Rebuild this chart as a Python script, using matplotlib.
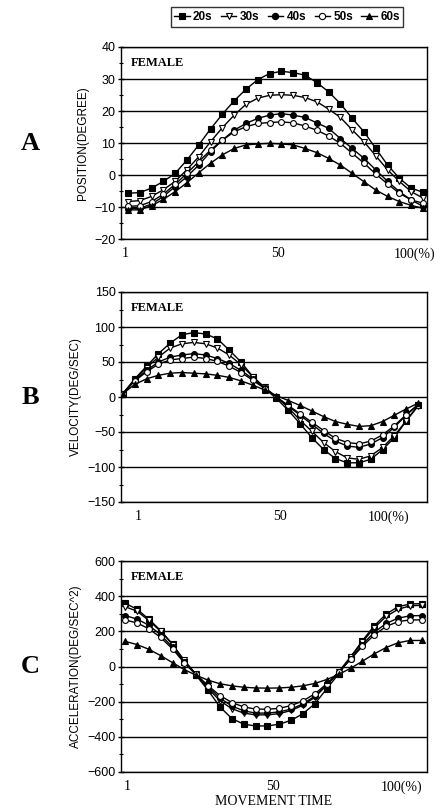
import matplotlib
matplotlib.use("Agg")
import matplotlib.pyplot as plt
from matplotlib.lines import Line2D
from matplotlib.ticker import MultipleLocator

# ---------------- data ----------------
groups = ["20s", "30s", "40s", "50s", "60s"]
x_tick_labels = ["1", "50", "100(%)"]

pos_20s = [-5.7, -5.5, -4.1, -2.0, 0.5, 4.7, 9.4, 14.4, 19.0, 23.2, 26.8, 29.8, 31.7, 32.4, 32.0, 31.2, 28.9, 26.0, 22.3, 17.7, 13.5, 8.3, 3.1, -1.0, -4.1, -5.4]
pos_30s = [-8.3, -8.0, -6.7, -4.6, -2.0, 1.7, 5.7, 10.4, 14.8, 18.7, 22.1, 24.0, 24.9, 25.1, 24.9, 24.2, 22.9, 20.6, 18.0, 14.1, 10.4, 6.0, 1.6, -2.0, -5.2, -7.2]
pos_40s = [-10.6, -10.4, -9.1, -6.7, -3.6, -0.5, 3.1, 7.3, 10.9, 14.0, 16.1, 17.7, 18.7, 19.2, 18.7, 18.0, 16.3, 14.6, 11.4, 8.3, 5.2, 1.6, -2.0, -5.2, -7.8, -9.8]
pos_50s = [-9.8, -9.6, -8.3, -6.0, -2.9, 0.5, 4.2, 7.8, 10.9, 13.5, 15.1, 16.1, 16.4, 16.6, 16.3, 15.3, 14.0, 12.2, 9.9, 6.8, 3.7, 0.3, -2.8, -5.7, -7.8, -8.8]
pos_60s = [-10.9, -10.9, -9.6, -7.6, -5.2, -2.4, 0.7, 3.7, 6.3, 8.3, 9.4, 9.7, 9.9, 9.7, 9.4, 8.3, 7.0, 5.2, 3.1, 0.5, -2.1, -4.7, -6.7, -8.3, -9.5, -10.4]

vel_20s = [5, 26, 44, 62, 77, 89, 92, 90, 83, 67, 50, 29, 12, -2, -19, -38, -58, -75, -88, -94, -94, -89, -75, -58, -34, -12]
vel_30s = [5, 25, 42, 57, 70, 76, 78, 76, 70, 60, 46, 29, 14, 0, -15, -33, -49, -65, -78, -87, -89, -84, -72, -55, -34, -13]
vel_40s = [5, 24, 38, 50, 57, 60, 62, 60, 55, 48, 38, 26, 13, 0, -13, -26, -39, -52, -63, -70, -72, -67, -58, -43, -26, -11]
vel_50s = [5, 23, 36, 47, 53, 55, 57, 55, 51, 44, 35, 24, 12, 0, -12, -24, -36, -48, -59, -65, -67, -63, -54, -41, -25, -11]
vel_60s = [5, 18, 26, 31, 34, 35, 34, 33, 31, 28, 23, 17, 10, 2, -5, -12, -20, -28, -35, -39, -42, -41, -35, -26, -17, -9]

acc_20s = [360, 326, 270, 204, 128, 25, -51, -136, -230, -296, -328, -338, -338, -328, -306, -268, -211, -126, -42, 53, 147, 232, 298, 340, 355, 358]
acc_30s = [340, 315, 262, 200, 125, 35, -45, -125, -195, -240, -265, -275, -275, -268, -250, -220, -175, -105, -30, 55, 140, 220, 285, 325, 345, 348]
acc_40s = [290, 270, 235, 180, 110, 25, -45, -115, -180, -225, -252, -265, -265, -258, -242, -212, -168, -105, -35, 45, 125, 195, 245, 275, 288, 290]
acc_50s = [265, 248, 215, 165, 100, 20, -45, -110, -165, -205, -230, -242, -243, -238, -222, -195, -155, -98, -32, 40, 115, 180, 228, 255, 265, 265]
acc_60s = [143, 125, 98, 62, 22, -18, -50, -78, -98, -110, -118, -122, -123, -122, -118, -110, -96, -74, -45, -10, 30, 72, 108, 135, 148, 148]

# ---------------- style ----------------
styles = [
    dict(marker="s", mfc="black"),
    dict(marker="v", mfc="white"),
    dict(marker="o", mfc="black"),
    dict(marker="o", mfc="white"),
    dict(marker="^", mfc="black"),
]
sans = ["Liberation Sans", "DejaVu Sans"]
serif = ["Liberation Serif", "DejaVu Serif"]

W, H = 434, 809
fig = plt.figure(figsize=(W / 100, H / 100), dpi=100)

def px_axes(left, right, top, bottom):
    return fig.add_axes([left / W, 1 - bottom / H, (right - left) / W, (bottom - top) / H])

panels = [
    dict(series=[pos_20s, pos_30s, pos_40s, pos_50s, pos_60s], top=47, bottom=239,
         ylim=(-20, 40), major=10, ylabel="POSITION(DEGREE)", letter="A",
         xlim=(-0.59, 25.34), xticks=[-0.25, 12.7, 24.3]),
    dict(series=[vel_20s, vel_30s, vel_40s, vel_50s, vel_60s], top=292, bottom=502,
         ylim=(-150, 150), major=50, ylabel="VELOCITY(DEG/SEC)", letter="B",
         xlim=(-0.17, 25.76), xticks=[1.27, 13.3, 22.5]),
    dict(series=[acc_20s, acc_30s, acc_40s, acc_50s, acc_60s], top=561, bottom=772,
         ylim=(-600, 600), major=200, ylabel="ACCELERATION(DEG/SEC^2)", letter="C",
         xlim=(-0.34, 25.44), xticks=[0.17, 12.5, 23.3]),
]

for p in panels:
    ax = px_axes(121, 427, p["top"], p["bottom"])
    for vals, st in zip(p["series"], styles):
        ax.plot(range(len(vals)), vals, color="black", lw=1.0, marker=st["marker"],
                mfc=st["mfc"], mec="black", ms=4.2, mew=0.8, zorder=3)
    ax.set_ylim(*p["ylim"])
    ax.set_xlim(*p["xlim"])
    ax.yaxis.set_major_locator(MultipleLocator(p["major"]))
    ax.yaxis.set_minor_locator(MultipleLocator(p["major"] / 2))
    ax.grid(axis="y", which="major", color="black", lw=1.0)
    ax.set_axisbelow(True)
    for s in ax.spines.values():
        s.set_color("black")
        s.set_linewidth(1.0)
    ax.tick_params(axis="y", which="major", direction="inout", length=4, width=1,
                   labelsize=9, pad=2)
    ax.tick_params(axis="y", which="minor", direction="inout", length=2.5, width=0.8)
    for lab in ax.get_yticklabels():
        lab.set_family(sans)
    ax.set_xticks(p["xticks"])
    ax.set_xticklabels(x_tick_labels, family=serif, fontsize=10)
    ax.tick_params(axis="x", length=0, pad=6)
    ax.set_ylabel(p["ylabel"], family=sans, fontsize=8.5, labelpad=4)
    ax.text(10 / 306, 1 - 16 / (p["bottom"] - p["top"]), "FEMALE", transform=ax.transAxes,
            family=serif, fontsize=9, fontweight="bold", va="center", ha="left")
    fig.text(30 / W, 1 - ((p["top"] + p["bottom"]) / 2) / H, p["letter"], family=serif,
             fontsize=19, fontweight="bold", ha="center", va="center")
    last_ax = ax

last_ax.set_xlabel("MOVEMENT TIME", family=serif, fontsize=10, labelpad=1)

handles = [Line2D([], [], color="black", lw=1.0, marker=st["marker"], mfc=st["mfc"],
                  mec="black", ms=4.5, mew=0.8) for st in styles]
leg = fig.legend(handles, groups, loc="center", bbox_to_anchor=(287 / W, 1 - 17 / H),
                 ncol=5, frameon=True, fancybox=False, edgecolor="black",
                 handlelength=1.3, handletextpad=0.3, columnspacing=0.7,
                 borderpad=0.3, prop=dict(family=sans, size=8.5, weight="bold"))
leg.get_frame().set_linewidth(1.0)

fig.savefig("out.png", dpi=100)
